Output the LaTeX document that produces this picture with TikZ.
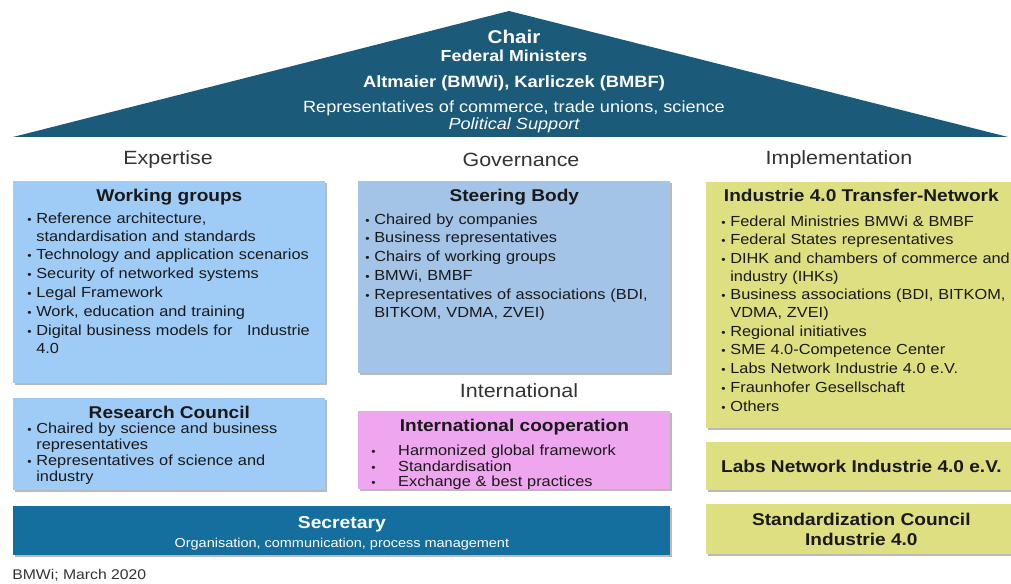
\documentclass[tikz,border=0pt]{standalone}
\usepackage{graphicx}
\usepackage{fontspec}
\setmainfont{Liberation Sans}[FakeStretch=1.12]
\usetikzlibrary{positioning, shadows}
\definecolor{roofBlue}{RGB}{28,90,122}
\definecolor{secBlue}{RGB}{21,111,158}
\definecolor{skyBlue}{RGB}{159,203,247}
\definecolor{steelBlue}{RGB}{163,195,231}
\definecolor{orchidPink}{RGB}{238,166,238}
\definecolor{limeYellow}{RGB}{221,223,128}
\definecolor{inkBlack}{gray}{0.1}
\definecolor{headGray}{gray}{0.2}

% bullet line with hanging indent
\newcommand{\bul}[1][1.8mm]{\par\hangindent=#1\hangafter=1\noindent\makebox[#1][l]{\scalebox{0.75}{\textbullet}}}

\begin{document}
\begin{tikzpicture}[x=0.2mm, y=-0.2mm,
    colhead/.style={font=\fontsize{10.9}{12}\selectfont, text=headGray, inner sep=0pt},
    panel/.style={anchor=north west, inner sep=0pt, minimum width=62.4mm,
        drop shadow={shadow xshift=1.2pt, shadow yshift=-1.2pt, fill=black!50, opacity=0.55}},
    title/.style={font=\bfseries\fontsize{9.7}{11}\selectfont, text=inkBlack, inner sep=0pt},
    items/.style={font=\fontsize{8.3}{10.2}\selectfont\setlength{\parskip}{0.5pt},
        text=inkBlack, align=left, inner sep=0pt},
    roof/.style={text=white, inner sep=0pt}]
    \useasboundingbox (0,0) rectangle (1011,584);

    % roof
    \coordinate (roofL) at (13,137);
    \coordinate (roofT) at (509,11);
    \coordinate (roofR) at (1008,137);
    \fill[roofBlue] (roofL) -- (roofT) -- (roofR) -- cycle;
    \node[roof, font=\bfseries\fontsize{10.5}{12}\selectfont] (chair) at (514,37) {Chair};
    \node[roof, font=\bfseries\fontsize{9.05}{10}\selectfont] (ministers) at (514,56) {Federal Ministers};
    \node[roof, font=\bfseries\fontsize{9.3}{10}\selectfont] (names) at (514,83) {Altmaier (BMWi), Karliczek (BMBF)};
    \node[roof, font=\fontsize{9.2}{10}\selectfont] (reps) at (514,108) {Representatives of commerce, trade unions, science};
    \node[roof, font=\itshape\fontsize{9.2}{10}\selectfont] (support) at (514,125) {Political Support};

    % column heads
    \node[colhead] (expertise) at (168,160) {Expertise};
    \node[colhead] (governance) at (521,160) {Governance};
    \node[colhead] (implementation) at (839,160) {Implementation};
    \node[colhead] (international) at (519,391) {International};

    % Expertise
    \node[panel, fill=skyBlue, minimum height=40.4mm] (wg) at (13,181) {};
    \node[title, below=1.6mm of wg.north] (wgT) {Working groups};
    \node[items, text width=58.6mm, below right=4.6mm and 2.8mm of wg.north west] (wgL) {%
        \bul Reference architecture,\newline standardisation and standards
        \bul Technology and application scenarios
        \bul Security of networked systems
        \bul Legal Framework
        \bul Work, education and training
        \bul Digital business models for~~ Industrie\newline 4.0\par};

    \node[panel, fill=skyBlue, minimum height=18.4mm] (rc) at (13,398) {};
    \node[title, below=1.5mm of rc.north] (rcT) {Research Council};
    \node[items, font=\fontsize{8.3}{9.1}\selectfont, text width=58.6mm,
        below right=3.8mm and 2.8mm of rc.north west] (rcL) {%
        \bul Chaired by science and business\newline representatives
        \bul Representatives of science and\newline industry\par};

    % Governance
    \node[panel, fill=steelBlue, minimum height=38.4mm] (sb) at (358,181) {};
    \node[title, below=1.6mm of sb.north] (sbT) {Steering Body};
    \node[items, text width=60mm, below right=4.8mm and 1.4mm of sb.north west] (sbL) {%
        \bul Chaired by companies
        \bul Business representatives
        \bul Chairs of working groups
        \bul BMWi, BMBF
        \bul Representatives of associations (BDI,\newline BITKOM, VDMA, ZVEI)\par};

    \node[panel, fill=orchidPink, minimum height=15.6mm] (ic) at (358,411) {};
    \node[title, below=1.5mm of ic.north] (icT) {International cooperation};
    \node[items, font=\fontsize{8.3}{8.8}\selectfont, text width=56mm,
        below right=5.8mm and 2.6mm of ic.north west] (icL) {%
        \bul[4.4mm] Harmonized global framework
        \bul[4.4mm] Standardisation
        \bul[4.4mm] Exchange \& best practices\par};

    % Secretary
    \node[panel, fill=secBlue, minimum width=131.4mm, minimum height=9.8mm] (sec) at (13,506) {};
    \node[roof, font=\bfseries\fontsize{9.8}{11}\selectfont, below=2.1mm of sec.north] (secT) {Secretary};
    \node[roof, font=\fontsize{7.35}{8}\selectfont, below=0.9mm of secT] (secL) {Organisation, communication, process management};

    % Implementation
    \node[panel, fill=limeYellow, minimum width=62mm, minimum height=49.2mm] (tn) at (706,182) {};
    \node[title, below=1.3mm of tn.north] (tnT) {Industrie 4.0 Transfer-Network};
    \node[items, font=\fontsize{8.3}{9.9}\selectfont\setlength{\parskip}{0.8pt}, text width=58.4mm,
        below right=5mm and 3mm of tn.north west] (tnL) {%
        \bul Federal Ministries BMWi \& BMBF
        \bul Federal States representatives
        \bul DIHK and chambers of commerce and\newline industry (IHKs)
        \bul Business associations (BDI, BITKOM,\newline VDMA, ZVEI)
        \bul Regional initiatives
        \bul SME 4.0-Competence Center
        \bul Labs Network Industrie 4.0 e.V.
        \bul Fraunhofer Gesellschaft
        \bul Others\par};

    \node[panel, fill=limeYellow, minimum width=62mm, minimum height=9.6mm] (labs) at (706,442) {};
    \node[title] (labsT) at (labs.center) {Labs Network Industrie 4.0 e.V.};

    \node[panel, fill=limeYellow, minimum width=62mm, minimum height=10mm] (sc) at (706,504) {};
    \node[title, align=center, font=\bfseries\fontsize{9.7}{11.5}\selectfont] (scT) at (sc.center) {Standardization Council\\Industrie 4.0};

    % source line
    \node[anchor=west, inner sep=0pt, font=\fontsize{8}{9}\selectfont, text=headGray] (source) at (12,575) {BMWi; March 2020};
\end{tikzpicture}
\end{document}
